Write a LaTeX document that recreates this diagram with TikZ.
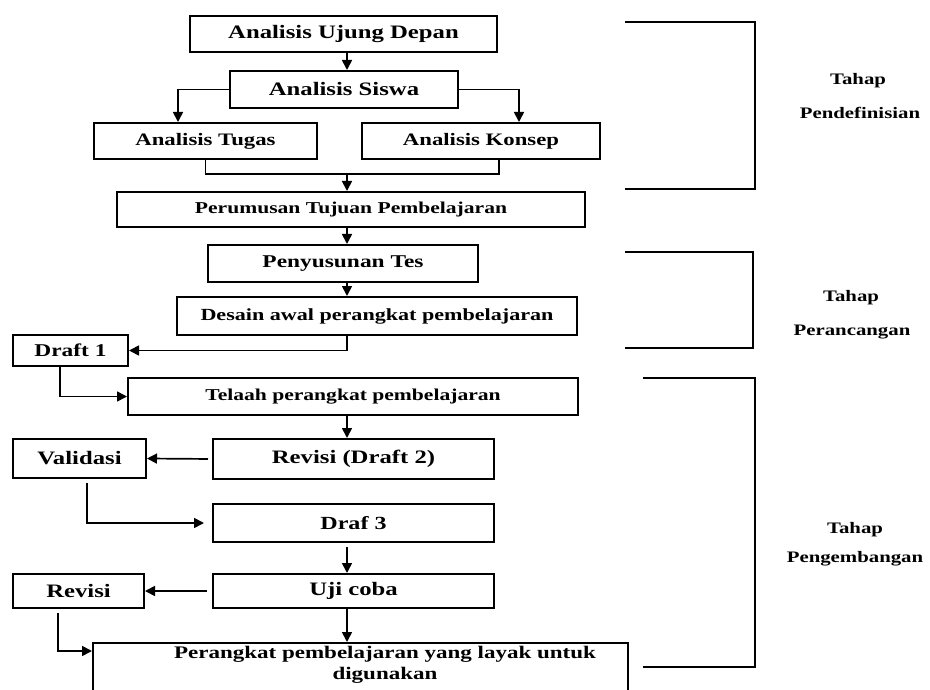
\documentclass[tikz,border=0pt]{standalone}
\usepackage{fontspec}
\setmainfont{Liberation Serif}[FakeStretch=1.3]
\usetikzlibrary{arrows.meta}
\newcommand\fz[1]{\fontsize{#1}{#1}\selectfont\bfseries}
\begin{document}
\begin{tikzpicture}[x=1pt,y=-1pt,
  box/.style={draw, line width=2pt, inner sep=0pt, anchor=center},
  lbl/.style={inner sep=0pt, anchor=center, font=\fz{16}},
  ln/.style={line width=1.7pt},
  arr/.style={line width=1.7pt, -{Triangle[length=10pt,width=10pt]}},
  brk/.style={line width=2.2pt},
  brkthin/.style={line width=1.4pt}]
\useasboundingbox (0,0) rectangle (930,690);
\clip (0,0) rectangle (930,690);
\coordinate (col) at (347,0);
% boxes
\node[box, minimum width=307pt, minimum height=36pt, font=\fz{19}] (ud) at (343.5,34) {Analisis Ujung Depan};
\node[box, minimum width=228pt, minimum height=37pt, font=\fz{19}] (siswa) at (344,89.5) {Analisis Siswa};
\node[box, minimum width=223pt, minimum height=36pt, font=\fz{17.5}] (tugas) at (205.5,141) {Analisis Tugas};
\node[box, minimum width=238pt, minimum height=36pt, font=\fz{17.5}] (konsep) at (481,141) {Analisis Konsep};
\node[box, minimum width=468pt, minimum height=35pt, font=\fz{16.6}] (perumusan) at (351,209.5) {Perumusan Tujuan Pembelajaran};
\node[box, minimum width=270pt, minimum height=37pt, font=\fz{18}] (penyusunan) at (343,263.5) {Penyusunan Tes};
\node[box, minimum width=400pt, minimum height=38pt, font=\fz{17}] (desain) at (377,316) {Desain awal perangkat pembelajaran};
\node[box, minimum width=115pt, minimum height=31pt, font=\fz{18}] (draft1) at (70.5,350.5) {Draft 1};
\node[box, minimum width=450pt, minimum height=37pt, font=\fz{16.6}] (telaah) at (353,396.5) {Telaah perangkat pembelajaran};
\node[box, minimum width=281pt, minimum height=40pt, font=\fz{19}] (revisi2) at (353.5,459) {Revisi (Draft 2)};
\node[box, minimum width=133pt, minimum height=39pt, font=\fz{19}] (validasi) at (79.5,458.5) {Validasi};
\node[box, minimum width=281pt, minimum height=38pt, font=\fz{18.5}] (draf3) at (353.5,523) {Draf 3};
\node[box, minimum width=281pt, minimum height=34pt, font=\fz{19}] (uji) at (353.5,591) {Uji coba};
\node[box, minimum width=131pt, minimum height=34pt, font=\fz{19}] (revisi) at (78.5,591) {Revisi};
\node[box, minimum width=535pt, minimum height=60pt] (perangkat) at (360.5,673) {};
\node[inner sep=0pt, align=center, font=\fontsize{17.7}{21}\selectfont\bfseries] (perangkattxt) at (385,665) {Perangkat pembelajaran yang layak untuk\\digunakan};
% connectors
\draw[arr] (ud.south -| col) -- (siswa.north -| col);
\draw[arr] (siswa.west) -| ([xshift=-27.5pt]tugas.north);
\draw[arr] (siswa.east) -| ([xshift=38pt]konsep.north);
\draw[ln] (tugas.south) -- ++(0,14) coordinate (jl) -| ([xshift=18pt]konsep.south);
\draw[arr] (jl -| col) -- (perumusan.north -| col);
\draw[arr] (perumusan.south -| col) -- (penyusunan.north -| col);
\draw[arr] (penyusunan.south -| col) -- (desain.north -| col);
\draw[arr] (desain.south -| col) |- (draft1.east);
\draw[arr] ([xshift=-10.5pt]draft1.south) |- (telaah.west);
\draw[arr] (telaah.south -| col) -- (revisi2.north -| col);
\draw[arr, shorten <=4pt] (revisi2.west) -- (validasi.east);
\draw[arr, shorten >=8pt] ([xshift=7.5pt,yshift=-4pt]validasi.south) |- (draf3.west);
\draw[arr, shorten <=4pt] (draf3.south -| col) -- (uji.north -| col);
\draw[arr, shorten <=5pt] (uji.west) -- (revisi.east);
\draw[arr] ([xshift=-20.5pt,yshift=-4pt]revisi.south) |- ([yshift=-9pt]perangkat.north west);
\draw[arr] (uji.south -| col) -- (perangkat.north -| col);
% stage brackets
\draw[brk] (625,22) -- (755,22) -- (755,189) -- (625,189);
\draw[brkthin] (625,252) -- (753,252) -- (753,348) -- (625,348);
\draw[brk] (643,378) -- (755,378) -- (755,667) -- (643,667);
\node[lbl] (t1) at (858,81) {Tahap};
\node[lbl] (p1) at (860,113) {Pendefinisian};
\node[lbl] (t2) at (851,298) {Tahap};
\node[lbl] (p2) at (852,332) {Perancangan};
\node[lbl] (t3) at (855,530) {Tahap};
\node[lbl] (p3) at (855,559) {Pengembangan};
\end{tikzpicture}
\end{document}
